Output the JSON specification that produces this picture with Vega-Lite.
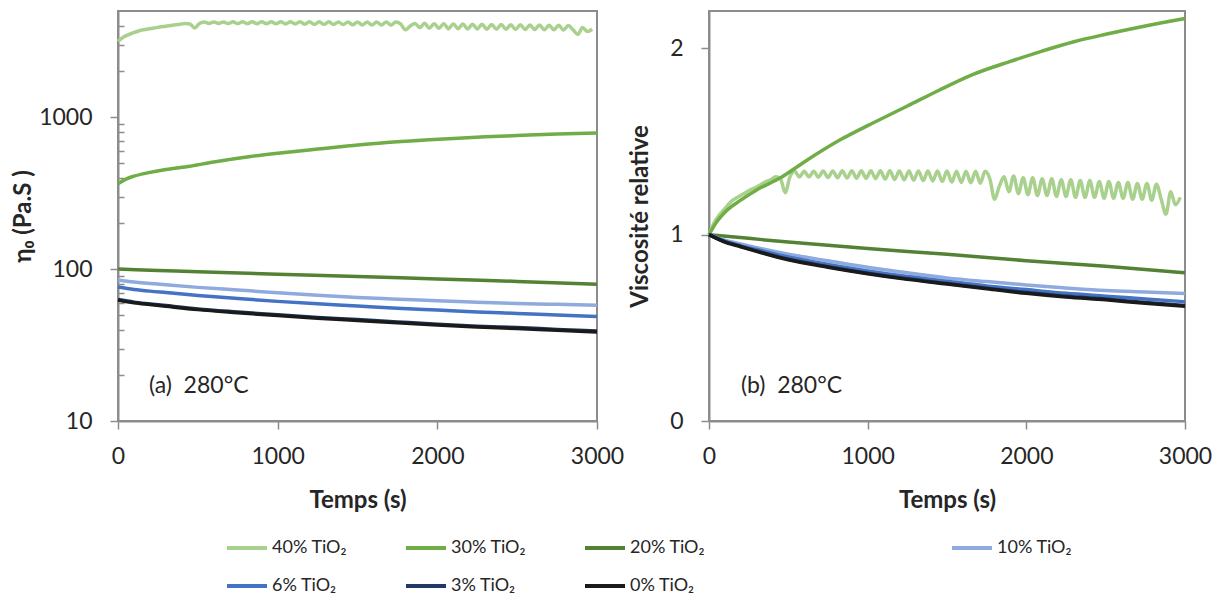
{
"$schema": "https://vega.github.io/schema/vega-lite/v6.json",
"autosize": {"type": "pad"},
"padding": {"left": 10, "top": 10, "right": 0, "bottom": 0},
"background": "white",
"bounds": "flush",
"spacing": 112,
"config": {
  "font": "Lato",
  "view": {"stroke": "#8c8c8c", "strokeWidth": 2},
  "axis": {"grid": false, "domainColor": "#8c8c8c", "domainWidth": 2, "tickColor": "#8c8c8c", "tickWidth": 1.5, "tickSize": 8, "labelFont": "Lato", "labelFontSize": 23, "labelColor": "#262626", "titleFont": "Lato", "titleFontSize": 24, "titleFontWeight": "bold", "titleColor": "#262626"}
},
"datasets": {"d": [
{"s":"40% TiO₂","t":0,"rel":1.0,"eta":3160},
{"s":"40% TiO₂","t":30,"rel":1.06,"eta":3350},
{"s":"40% TiO₂","t":60,"rel":1.1,"eta":3476},
{"s":"40% TiO₂","t":90,"rel":1.13,"eta":3571},
{"s":"40% TiO₂","t":120,"rel":1.16,"eta":3666},
{"s":"40% TiO₂","t":150,"rel":1.185,"eta":3745},
{"s":"40% TiO₂","t":180,"rel":1.2,"eta":3792},
{"s":"40% TiO₂","t":210,"rel":1.215,"eta":3839},
{"s":"40% TiO₂","t":240,"rel":1.23,"eta":3887},
{"s":"40% TiO₂","t":270,"rel":1.245,"eta":3934},
{"s":"40% TiO₂","t":300,"rel":1.255,"eta":3966},
{"s":"40% TiO₂","t":330,"rel":1.27,"eta":4013},
{"s":"40% TiO₂","t":360,"rel":1.285,"eta":4061},
{"s":"40% TiO₂","t":390,"rel":1.295,"eta":4092},
{"s":"40% TiO₂","t":420,"rel":1.31,"eta":4140},
{"s":"40% TiO₂","t":450,"rel":1.3,"eta":4108},
{"s":"40% TiO₂","t":480,"rel":1.225,"eta":3871},
{"s":"40% TiO₂","t":510,"rel":1.31,"eta":4140},
{"s":"40% TiO₂","t":540,"rel":1.34,"eta":4234},
{"s":"40% TiO₂","t":570,"rel":1.31,"eta":4140},
{"s":"40% TiO₂","t":600,"rel":1.34,"eta":4234},
{"s":"40% TiO₂","t":630,"rel":1.31,"eta":4140},
{"s":"40% TiO₂","t":660,"rel":1.34,"eta":4234},
{"s":"40% TiO₂","t":690,"rel":1.308,"eta":4133},
{"s":"40% TiO₂","t":720,"rel":1.342,"eta":4241},
{"s":"40% TiO₂","t":750,"rel":1.306,"eta":4127},
{"s":"40% TiO₂","t":780,"rel":1.342,"eta":4241},
{"s":"40% TiO₂","t":810,"rel":1.305,"eta":4124},
{"s":"40% TiO₂","t":840,"rel":1.343,"eta":4244},
{"s":"40% TiO₂","t":870,"rel":1.304,"eta":4121},
{"s":"40% TiO₂","t":900,"rel":1.343,"eta":4244},
{"s":"40% TiO₂","t":930,"rel":1.303,"eta":4117},
{"s":"40% TiO₂","t":960,"rel":1.343,"eta":4244},
{"s":"40% TiO₂","t":990,"rel":1.302,"eta":4114},
{"s":"40% TiO₂","t":1020,"rel":1.343,"eta":4244},
{"s":"40% TiO₂","t":1050,"rel":1.3,"eta":4108},
{"s":"40% TiO₂","t":1080,"rel":1.343,"eta":4244},
{"s":"40% TiO₂","t":1110,"rel":1.298,"eta":4102},
{"s":"40% TiO₂","t":1140,"rel":1.343,"eta":4244},
{"s":"40% TiO₂","t":1170,"rel":1.296,"eta":4095},
{"s":"40% TiO₂","t":1200,"rel":1.342,"eta":4241},
{"s":"40% TiO₂","t":1230,"rel":1.294,"eta":4089},
{"s":"40% TiO₂","t":1260,"rel":1.342,"eta":4241},
{"s":"40% TiO₂","t":1290,"rel":1.292,"eta":4083},
{"s":"40% TiO₂","t":1320,"rel":1.342,"eta":4241},
{"s":"40% TiO₂","t":1350,"rel":1.29,"eta":4076},
{"s":"40% TiO₂","t":1380,"rel":1.341,"eta":4238},
{"s":"40% TiO₂","t":1410,"rel":1.288,"eta":4070},
{"s":"40% TiO₂","t":1440,"rel":1.341,"eta":4238},
{"s":"40% TiO₂","t":1470,"rel":1.285,"eta":4061},
{"s":"40% TiO₂","t":1500,"rel":1.341,"eta":4238},
{"s":"40% TiO₂","t":1530,"rel":1.282,"eta":4051},
{"s":"40% TiO₂","t":1560,"rel":1.34,"eta":4234},
{"s":"40% TiO₂","t":1590,"rel":1.28,"eta":4045},
{"s":"40% TiO₂","t":1620,"rel":1.34,"eta":4234},
{"s":"40% TiO₂","t":1650,"rel":1.278,"eta":4038},
{"s":"40% TiO₂","t":1680,"rel":1.34,"eta":4234},
{"s":"40% TiO₂","t":1710,"rel":1.276,"eta":4032},
{"s":"40% TiO₂","t":1740,"rel":1.34,"eta":4234},
{"s":"40% TiO₂","t":1770,"rel":1.3,"eta":4108},
{"s":"40% TiO₂","t":1800,"rel":1.19,"eta":3760},
{"s":"40% TiO₂","t":1830,"rel":1.26,"eta":3982},
{"s":"40% TiO₂","t":1860,"rel":1.31,"eta":4140},
{"s":"40% TiO₂","t":1890,"rel":1.23,"eta":3887},
{"s":"40% TiO₂","t":1920,"rel":1.315,"eta":4155},
{"s":"40% TiO₂","t":1950,"rel":1.22,"eta":3855},
{"s":"40% TiO₂","t":1980,"rel":1.305,"eta":4124},
{"s":"40% TiO₂","t":2010,"rel":1.215,"eta":3839},
{"s":"40% TiO₂","t":2040,"rel":1.305,"eta":4124},
{"s":"40% TiO₂","t":2070,"rel":1.21,"eta":3824},
{"s":"40% TiO₂","t":2100,"rel":1.3,"eta":4108},
{"s":"40% TiO₂","t":2130,"rel":1.21,"eta":3824},
{"s":"40% TiO₂","t":2160,"rel":1.3,"eta":4108},
{"s":"40% TiO₂","t":2190,"rel":1.205,"eta":3808},
{"s":"40% TiO₂","t":2220,"rel":1.295,"eta":4092},
{"s":"40% TiO₂","t":2250,"rel":1.205,"eta":3808},
{"s":"40% TiO₂","t":2280,"rel":1.295,"eta":4092},
{"s":"40% TiO₂","t":2310,"rel":1.2,"eta":3792},
{"s":"40% TiO₂","t":2340,"rel":1.29,"eta":4076},
{"s":"40% TiO₂","t":2370,"rel":1.2,"eta":3792},
{"s":"40% TiO₂","t":2400,"rel":1.29,"eta":4076},
{"s":"40% TiO₂","t":2430,"rel":1.2,"eta":3792},
{"s":"40% TiO₂","t":2460,"rel":1.285,"eta":4061},
{"s":"40% TiO₂","t":2490,"rel":1.195,"eta":3776},
{"s":"40% TiO₂","t":2520,"rel":1.285,"eta":4061},
{"s":"40% TiO₂","t":2550,"rel":1.195,"eta":3776},
{"s":"40% TiO₂","t":2580,"rel":1.28,"eta":4045},
{"s":"40% TiO₂","t":2610,"rel":1.195,"eta":3776},
{"s":"40% TiO₂","t":2640,"rel":1.28,"eta":4045},
{"s":"40% TiO₂","t":2670,"rel":1.19,"eta":3760},
{"s":"40% TiO₂","t":2700,"rel":1.275,"eta":4029},
{"s":"40% TiO₂","t":2730,"rel":1.19,"eta":3760},
{"s":"40% TiO₂","t":2760,"rel":1.275,"eta":4029},
{"s":"40% TiO₂","t":2790,"rel":1.185,"eta":3745},
{"s":"40% TiO₂","t":2820,"rel":1.27,"eta":4013},
{"s":"40% TiO₂","t":2850,"rel":1.19,"eta":3760},
{"s":"40% TiO₂","t":2880,"rel":1.11,"eta":3508},
{"s":"40% TiO₂","t":2910,"rel":1.23,"eta":3887},
{"s":"40% TiO₂","t":2940,"rel":1.16,"eta":3666},
{"s":"40% TiO₂","t":2970,"rel":1.2,"eta":3792},
{"s":"30% TiO₂","t":0,"rel":1.0,"eta":365},
{"s":"30% TiO₂","t":50,"rel":1.07,"eta":391},
{"s":"30% TiO₂","t":100,"rel":1.12,"eta":409},
{"s":"30% TiO₂","t":200,"rel":1.185,"eta":433},
{"s":"30% TiO₂","t":300,"rel":1.24,"eta":453},
{"s":"30% TiO₂","t":450,"rel":1.305,"eta":476},
{"s":"30% TiO₂","t":600,"rel":1.39,"eta":507},
{"s":"30% TiO₂","t":830,"rel":1.51,"eta":551},
{"s":"30% TiO₂","t":1000,"rel":1.585,"eta":579},
{"s":"30% TiO₂","t":1250,"rel":1.69,"eta":617},
{"s":"30% TiO₂","t":1450,"rel":1.775,"eta":648},
{"s":"30% TiO₂","t":1650,"rel":1.855,"eta":677},
{"s":"30% TiO₂","t":1900,"rel":1.93,"eta":704},
{"s":"30% TiO₂","t":2100,"rel":1.985,"eta":725},
{"s":"30% TiO₂","t":2300,"rel":2.035,"eta":743},
{"s":"30% TiO₂","t":2500,"rel":2.075,"eta":757},
{"s":"30% TiO₂","t":2750,"rel":2.12,"eta":774},
{"s":"30% TiO₂","t":3000,"rel":2.16,"eta":788},
{"s":"20% TiO₂","t":0,"rel":1.0,"eta":100},
{"s":"20% TiO₂","t":250,"rel":0.98,"eta":98},
{"s":"20% TiO₂","t":500,"rel":0.96,"eta":96},
{"s":"20% TiO₂","t":1000,"rel":0.925,"eta":92.5},
{"s":"20% TiO₂","t":1500,"rel":0.895,"eta":89.5},
{"s":"20% TiO₂","t":2000,"rel":0.86,"eta":86},
{"s":"20% TiO₂","t":2500,"rel":0.83,"eta":83},
{"s":"20% TiO₂","t":3000,"rel":0.795,"eta":79.5},
{"s":"10% TiO₂","t":0,"rel":1.0,"eta":84.7},
{"s":"10% TiO₂","t":100,"rel":0.97,"eta":82.2},
{"s":"10% TiO₂","t":200,"rel":0.95,"eta":80.5},
{"s":"10% TiO₂","t":300,"rel":0.93,"eta":78.8},
{"s":"10% TiO₂","t":500,"rel":0.895,"eta":75.8},
{"s":"10% TiO₂","t":750,"rel":0.86,"eta":72.8},
{"s":"10% TiO₂","t":1000,"rel":0.825,"eta":69.9},
{"s":"10% TiO₂","t":1250,"rel":0.795,"eta":67.3},
{"s":"10% TiO₂","t":1500,"rel":0.768,"eta":65.0},
{"s":"10% TiO₂","t":1750,"rel":0.748,"eta":63.4},
{"s":"10% TiO₂","t":2000,"rel":0.73,"eta":61.8},
{"s":"10% TiO₂","t":2250,"rel":0.714,"eta":60.5},
{"s":"10% TiO₂","t":2500,"rel":0.7,"eta":59.3},
{"s":"10% TiO₂","t":2750,"rel":0.692,"eta":58.6},
{"s":"10% TiO₂","t":3000,"rel":0.684,"eta":57.9},
{"s":"6% TiO₂","t":0,"rel":1.0,"eta":76.2},
{"s":"6% TiO₂","t":100,"rel":0.965,"eta":73.5},
{"s":"6% TiO₂","t":200,"rel":0.94,"eta":71.6},
{"s":"6% TiO₂","t":300,"rel":0.92,"eta":70.1},
{"s":"6% TiO₂","t":500,"rel":0.88,"eta":67.1},
{"s":"6% TiO₂","t":750,"rel":0.84,"eta":64.0},
{"s":"6% TiO₂","t":1000,"rel":0.805,"eta":61.3},
{"s":"6% TiO₂","t":1250,"rel":0.775,"eta":59.1},
{"s":"6% TiO₂","t":1500,"rel":0.75,"eta":57.2},
{"s":"6% TiO₂","t":1750,"rel":0.725,"eta":55.2},
{"s":"6% TiO₂","t":2000,"rel":0.705,"eta":53.7},
{"s":"6% TiO₂","t":2250,"rel":0.685,"eta":52.2},
{"s":"6% TiO₂","t":2500,"rel":0.67,"eta":51.1},
{"s":"6% TiO₂","t":2750,"rel":0.655,"eta":49.9},
{"s":"6% TiO₂","t":3000,"rel":0.64,"eta":48.8},
{"s":"3% TiO₂","t":0,"rel":1.0,"eta":63},
{"s":"3% TiO₂","t":100,"rel":0.962,"eta":60.6},
{"s":"3% TiO₂","t":200,"rel":0.937,"eta":59.0},
{"s":"3% TiO₂","t":300,"rel":0.912,"eta":57.5},
{"s":"3% TiO₂","t":500,"rel":0.868,"eta":54.7},
{"s":"3% TiO₂","t":750,"rel":0.828,"eta":52.2},
{"s":"3% TiO₂","t":1000,"rel":0.793,"eta":50.0},
{"s":"3% TiO₂","t":1250,"rel":0.763,"eta":48.1},
{"s":"3% TiO₂","t":1500,"rel":0.738,"eta":46.5},
{"s":"3% TiO₂","t":1750,"rel":0.713,"eta":44.9},
{"s":"3% TiO₂","t":2000,"rel":0.689,"eta":43.4},
{"s":"3% TiO₂","t":2250,"rel":0.669,"eta":42.1},
{"s":"3% TiO₂","t":2500,"rel":0.654,"eta":41.2},
{"s":"3% TiO₂","t":2750,"rel":0.636,"eta":40.1},
{"s":"3% TiO₂","t":3000,"rel":0.62,"eta":39.1},
{"s":"0% TiO₂","t":0,"rel":1.0,"eta":62.5},
{"s":"0% TiO₂","t":100,"rel":0.96,"eta":60.0},
{"s":"0% TiO₂","t":200,"rel":0.935,"eta":58.4},
{"s":"0% TiO₂","t":300,"rel":0.91,"eta":56.9},
{"s":"0% TiO₂","t":500,"rel":0.865,"eta":54.1},
{"s":"0% TiO₂","t":750,"rel":0.825,"eta":51.6},
{"s":"0% TiO₂","t":1000,"rel":0.79,"eta":49.4},
{"s":"0% TiO₂","t":1250,"rel":0.76,"eta":47.5},
{"s":"0% TiO₂","t":1500,"rel":0.735,"eta":45.9},
{"s":"0% TiO₂","t":1750,"rel":0.71,"eta":44.4},
{"s":"0% TiO₂","t":2000,"rel":0.685,"eta":42.8},
{"s":"0% TiO₂","t":2250,"rel":0.665,"eta":41.6},
{"s":"0% TiO₂","t":2500,"rel":0.65,"eta":40.6},
{"s":"0% TiO₂","t":2750,"rel":0.632,"eta":39.5},
{"s":"0% TiO₂","t":3000,"rel":0.616,"eta":38.5}
]},
"hconcat": [
 {
  "width": 479, "height": 410,
  "layer": [
   {"data": {"name": "d"},
    "mark": {"type": "line", "strokeWidth": 3.5, "interpolate": "monotone"},
    "encoding": {
     "x": {"field": "t", "type": "quantitative", "scale": {"domain": [0, 3000], "nice": false}, "axis": {"values": [0, 1000, 2000, 3000], "format": "d", "title": "Temps (s)", "labelPadding": 16, "titlePadding": 20, "labelFlush": false}},
     "y": {"field": "eta", "type": "quantitative", "scale": {"type": "log", "domain": [10, 5000], "nice": false}, "axis": {"title": "η₀ (Pa.S )", "values": [10,20,30,40,50,60,70,80,90,100,200,300,400,500,600,700,800,900,1000,2000,3000,4000], "format": "d", "labelExpr": "(datum.value == 10 || datum.value == 100 || datum.value == 1000) ? datum.label : ''", "labelOverlap": false, "tickSize": {"condition": {"test": "datum.value == 10 || datum.value == 100 || datum.value == 1000", "value": 8}, "value": -6}, "labelPadding": 18, "titlePadding": 3}},
     "color": {"field": "s", "type": "nominal",
       "scale": {"domain": ["40% TiO₂","30% TiO₂","20% TiO₂","10% TiO₂","6% TiO₂","3% TiO₂","0% TiO₂"], "range": ["#a9d18e","#70ad47","#548235","#8faadc","#4472c4","#1f3864","#1a1a1a"]},
       "legend": {"orient": "none", "direction": "horizontal", "legendX": 107, "legendY": 515, "columns": 3, "values": ["40% TiO₂","30% TiO₂","20% TiO₂","6% TiO₂","3% TiO₂","0% TiO₂"], "title": null, "symbolType": "stroke", "symbolSize": 1600, "symbolStrokeWidth": 4, "labelFontSize": 18, "labelFont": "Lato", "labelColor": "#262626", "labelOffset": 3, "columnPadding": 50, "rowPadding": 7, "padding": 0}}
    }},
   {"data": {"values": [{}]},
    "mark": {"type": "text", "align": "left", "baseline": "middle", "fontSize": 23, "color": "#262626", "font": "Lato"},
    "encoding": {"x": {"datum": 194}, "y": {"datum": 17}, "text": {"value": "(a)\u00a0 280°C"}}}
  ]
 },
 {
  "width": 476, "height": 410,
  "layer": [
   {"data": {"name": "d"},
    "mark": {"type": "line", "strokeWidth": 3.5, "interpolate": "monotone"},
    "encoding": {
     "x": {"field": "t", "type": "quantitative", "scale": {"domain": [0, 3000], "nice": false}, "axis": {"values": [0, 1000, 2000, 3000], "format": "d", "title": "Temps (s)", "labelPadding": 16, "titlePadding": 20, "labelFlush": false}},
     "y": {"field": "rel", "type": "quantitative", "scale": {"domain": [0, 2.2], "nice": false}, "axis": {"title": "Viscosité relative", "values": [0, 1, 2], "format": "d", "labelPadding": 18, "titlePadding": 17}},
     "stroke": {"field": "s", "type": "nominal",
       "scale": {"domain": ["10% TiO₂","40% TiO₂","30% TiO₂","20% TiO₂","6% TiO₂","3% TiO₂","0% TiO₂"], "range": ["#8faadc","#a9d18e","#70ad47","#548235","#4472c4","#1f3864","#1a1a1a"]},
       "legend": {"orient": "none", "legendX": 832, "legendY": 515, "columns": 1, "values": ["10% TiO₂"], "title": null, "symbolType": "stroke", "symbolSize": 1600, "symbolStrokeWidth": 4, "labelFontSize": 18, "labelFont": "Lato", "labelColor": "#262626", "labelOffset": 3, "padding": 0}}
    }},
   {"data": {"values": [{}]},
    "mark": {"type": "text", "align": "left", "baseline": "middle", "fontSize": 23, "color": "#262626", "font": "Lato"},
    "encoding": {"x": {"datum": 201}, "y": {"datum": 0.19}, "text": {"value": "(b)\u00a0 280°C"}}}
  ]
 }
],
"resolve": {"scale": {"color": "shared", "stroke": "shared"}, "legend": {"color": "shared", "stroke": "shared"}}
}
